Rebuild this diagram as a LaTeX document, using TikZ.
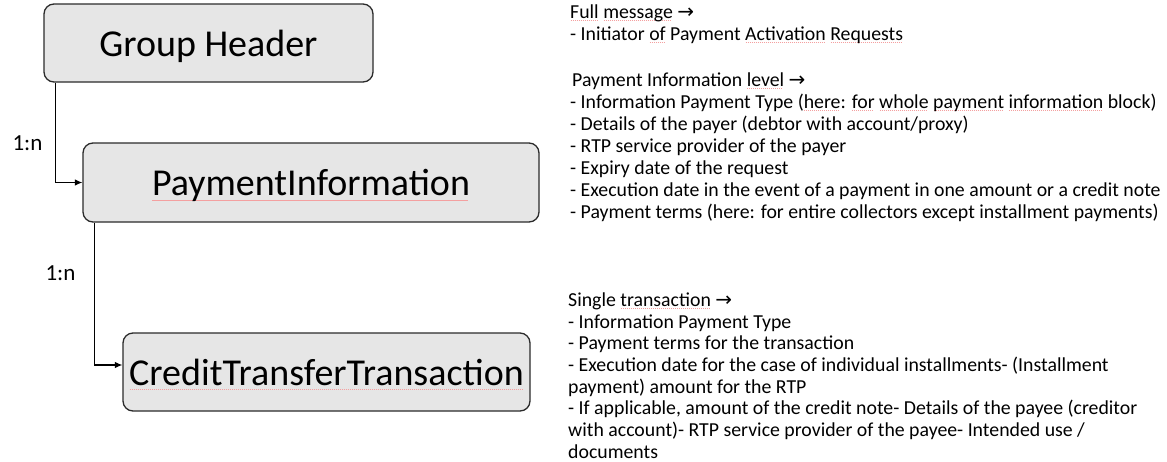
\documentclass[tikz,border=0pt]{standalone}
\usepackage{fontspec}
\setmainfont{Carlito}
\newfontfamily\arrowfont{DejaVu Sans}
\usetikzlibrary{arrows.meta,calc}
\definecolor{boxfill}{HTML}{E6E6E6}
\definecolor{boxline}{HTML}{2B2B2B}
\definecolor{sqred}{HTML}{F4A0A0}
\newcommand\squig[2][3pt]{\setbox0\hbox{#2}\rlap{\raisebox{-#1}{\color{sqred}\leaders\hbox to 2pt{\hss\rule{1.2pt}{0.7pt}\hss}\hskip\wd0}}#2}
\newcommand\rarr{{\arrowfont\fontsize{20}{20}\selectfont →}}
\tikzset{
  box/.style={draw=boxline, line width=1.3pt, fill=boxfill, rounded corners=10pt,
    inner sep=0pt, text height=30pt, text depth=4pt, font=\fontsize{38}{40}\selectfont},
  conn/.style={draw=black, line width=1.1pt, -{Latex[length=7.5pt,width=6.5pt]}},
  ln/.style={anchor=base west, inner sep=0pt, font=\fontsize{19.8}{22}\selectfont},
  card/.style={inner sep=0pt, font=\fontsize{23}{24}\selectfont},
}
\begin{document}
\begin{tikzpicture}[x=1pt,y=-1pt]
\useasboundingbox (0,0) rectangle (1167,461);
% boxes
\node[box, minimum width=329pt, minimum height=78pt] (gh) at (208.5,43) {Group Header};
\node[box, minimum width=456pt, minimum height=79pt] (pi) at (311,182.5) {\squig[5pt]{PaymentInformation}};
\node[box, minimum width=407pt, minimum height=78pt] (ctt) at (326.5,372) {\squig[5pt]{CreditTransferTransaction}};
% connectors
\draw[conn] ($(gh.south west)+(12,0)$) |- (pi.west);
\draw[conn] ($(pi.south west)+(12,0)$) |- ($(ctt.west)+(0,-7)$);
\node[card] (c1) at (27.5,143.5) {1:n};
\node[card] (c2) at (60.5,273.5) {1:n};
% right text block 1
\node[ln] (t1) at (570,18) {\squig{Full} \squig{message} \rarr};
\node[ln] (t2) at (570,40) {- Initiator \squig{of} Payment \squig{Activation} \squig{Requests}};
% block 2
\node[ln] (t3) at (572,86) {Payment Information \squig{level} \rarr};
\node[ln] (t4) at (570,108) {- Information Payment Type (\squig{here}: \squig{for} \squig{whole} \squig{payment} \squig{information} block)};
\node[ln] (t5) at (570,130) {- Details of the payer (debtor with account/proxy)};
\node[ln] (t6) at (570,152) {- RTP service provider of the payer};
\node[ln] (t7) at (570,174) {- Expiry date of the request};
\node[ln] (t8) at (570,196) {- Execution date in the event of a payment in one amount or a credit note};
\node[ln] (t9) at (570,218) {- Payment terms (here: for entire collectors except installment payments)};
% block 3
\node[ln] (u1) at (568,306) {Single \squig{transaction} \rarr};
\node[ln] (u2) at (568,328) {- Information Payment Type};
\node[ln] (u3) at (568,349) {- Payment terms for the transaction};
\node[ln] (u4) at (568,371) {- Execution date for the case of individual installments- (Installment};
\node[ln] (u5) at (568,393) {payment) amount for the RTP};
\node[ln] (u6) at (568,414) {- If applicable, amount of the credit note- Details of the payee (creditor};
\node[ln] (u7) at (568,436) {with account)- RTP service provider of the payee- Intended use /};
\node[ln] (u8) at (568,458) {documents};
\end{tikzpicture}
\end{document}
